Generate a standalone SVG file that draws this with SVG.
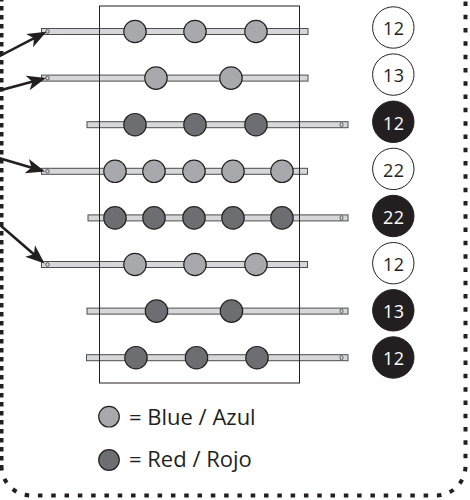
<svg xmlns="http://www.w3.org/2000/svg" width="470" height="500" viewBox="0 0 470 500">
<style>
.rod{fill:#d6d7d8;stroke:#4d4d4f;stroke-width:1}
.hole{fill:none;stroke:#4d4d4f;stroke-width:0.9}
.b{fill:#a7a9ac;stroke:#231f20;stroke-width:1.2}
.r{fill:#6d6e71;stroke:#231f20;stroke-width:1.2}
.nw{fill:#ffffff;stroke:#231f20;stroke-width:1}
.nb{fill:#231f20;stroke:#231f20;stroke-width:1}
.tw{font-family:"Open Sans","Liberation Sans",sans-serif;font-size:18px;fill:#231f20;text-anchor:middle;letter-spacing:0.6px}
.tb{font-family:"Open Sans","Liberation Sans",sans-serif;font-size:18px;fill:#ffffff;text-anchor:middle;letter-spacing:0.6px}
.lg{font-family:"Open Sans","Liberation Sans",sans-serif;font-size:22px;fill:#231f20}
.arr{stroke:#231f20;stroke-width:2.6;fill:none;marker-end:url(#ah)}
.frame{fill:none;stroke:#231f20;stroke-width:1}
</style>
<defs>
<marker id="ah" markerUnits="userSpaceOnUse" markerWidth="22" markerHeight="18" refX="16" refY="8" orient="auto" viewBox="0 0 22 18">
<path d="M19,8 L0,0.5 L5,8 L0,15.5 Z" fill="#231f20"/>
</marker>
</defs>
<g id="border">
<path d="M1.5,-3 V466" fill="none" stroke="#231f20" stroke-width="4" stroke-dasharray="4.5 4.5"/>
<path d="M1.5,466 A29.5,29.5 0 0 0 31,495.5 H436 A29.5,29.5 0 0 0 465.5,466 V-5" fill="none" stroke="#231f20" stroke-width="4" stroke-dasharray="4.5 8.8"/>
</g>
<g id="row1">
<rect class="rod" x="41.5" y="28.5" width="266.5" height="6"/>
<circle class="hole" cx="47.5" cy="31.5" r="1.8"/>
</g>
<g id="row2">
<rect class="rod" x="41.5" y="75.1" width="266.5" height="6"/>
<circle class="hole" cx="47.5" cy="78.1" r="1.8"/>
</g>
<g id="row3">
<rect class="rod" x="87" y="121.7" width="261" height="6"/>
<ellipse class="hole" cx="341.5" cy="124.7" rx="1.5" ry="2.2"/>
</g>
<g id="row4">
<rect class="rod" x="41.5" y="168.3" width="266" height="6"/>
<circle class="hole" cx="47.5" cy="171.3" r="1.8"/>
</g>
<g id="row5">
<rect class="rod" x="88" y="214.9" width="260" height="6"/>
<ellipse class="hole" cx="341.5" cy="217.9" rx="1.5" ry="2.2"/>
</g>
<g id="row6">
<rect class="rod" x="41.5" y="261.5" width="266" height="6"/>
<circle class="hole" cx="47.5" cy="264.5" r="1.8"/>
</g>
<g id="row7">
<rect class="rod" x="87" y="308.1" width="261" height="6"/>
<ellipse class="hole" cx="341.5" cy="311.1" rx="1.5" ry="2.2"/>
</g>
<g id="row8">
<rect class="rod" x="86.5" y="354.7" width="261.5" height="6"/>
<ellipse class="hole" cx="341.5" cy="357.7" rx="1.5" ry="2.2"/>
</g>
<rect id="frame" class="frame" x="99.5" y="6" width="200" height="377"/>
<g id="beads">
<circle class="b" cx="135" cy="31.5" r="11.2"/>
<circle class="b" cx="195" cy="31.5" r="11.2"/>
<circle class="b" cx="256" cy="31.5" r="11.2"/>
<circle class="b" cx="156" cy="78.1" r="11.2"/>
<circle class="b" cx="231" cy="78.1" r="11.2"/>
<circle class="r" cx="135" cy="124.7" r="11.2"/>
<circle class="r" cx="195" cy="124.7" r="11.2"/>
<circle class="r" cx="256" cy="124.7" r="11.2"/>
<circle class="b" cx="115" cy="171.3" r="11.2"/>
<circle class="b" cx="154" cy="171.3" r="11.2"/>
<circle class="b" cx="194" cy="171.3" r="11.2"/>
<circle class="b" cx="233" cy="171.3" r="11.2"/>
<circle class="b" cx="282" cy="171.3" r="11.2"/>
<circle class="r" cx="115" cy="217.9" r="11.2"/>
<circle class="r" cx="154" cy="217.9" r="11.2"/>
<circle class="r" cx="194" cy="217.9" r="11.2"/>
<circle class="r" cx="233" cy="217.9" r="11.2"/>
<circle class="r" cx="282" cy="217.9" r="11.2"/>
<circle class="b" cx="135" cy="264.5" r="11.2"/>
<circle class="b" cx="195" cy="264.5" r="11.2"/>
<circle class="b" cx="256" cy="264.5" r="11.2"/>
<circle class="r" cx="156.5" cy="311.1" r="11.2"/>
<circle class="r" cx="231.5" cy="311.1" r="11.2"/>
<circle class="r" cx="136" cy="357.7" r="11.2"/>
<circle class="r" cx="196.5" cy="357.7" r="11.2"/>
<circle class="r" cx="257" cy="357.7" r="11.2"/>
</g>
<g id="n1"><circle class="nw" cx="393.3" cy="27.5" r="20.7"/><text class="tw" x="393.8" y="35.3">12</text></g>
<g id="n2"><circle class="nw" cx="393.3" cy="74.6" r="20.7"/><text class="tw" x="393.8" y="82.4">13</text></g>
<g id="n3"><circle class="nb" cx="393.3" cy="121.8" r="20.7"/><text class="tb" x="393.8" y="129.6">12</text></g>
<g id="n4"><circle class="nw" cx="393.3" cy="168.9" r="20.7"/><text class="tw" x="393.8" y="176.7">22</text></g>
<g id="n5"><circle class="nb" cx="393.3" cy="216" r="20.7"/><text class="tb" x="393.8" y="223.8">22</text></g>
<g id="n6"><circle class="nw" cx="393.3" cy="263.2" r="20.7"/><text class="tw" x="393.8" y="271">12</text></g>
<g id="n7"><circle class="nb" cx="393.3" cy="310.3" r="20.7"/><text class="tb" x="393.8" y="318.1">13</text></g>
<g id="n8"><circle class="nb" cx="393.3" cy="357.5" r="20.7"/><text class="tb" x="393.8" y="365.3">12</text></g>
<g id="legend-blue"><circle class="b" cx="109" cy="416.7" r="10.3"/><text class="lg" x="129" y="425">= Blue / Azul</text></g>
<g id="legend-red"><circle class="r" cx="109" cy="460" r="10.3"/><text class="lg" x="129" y="467.3">= Red / Rojo</text></g>
<g id="connectors">
<path class="arr" d="M-6,59 L43.8,33.2"/>
<path class="arr" d="M-5,91.8 L43.1,78.8"/>
<path class="arr" d="M-5,156.8 L42.1,170.7"/>
<path class="arr" d="M-5,220.7 L42.2,261.5"/>
</g>
</svg>
